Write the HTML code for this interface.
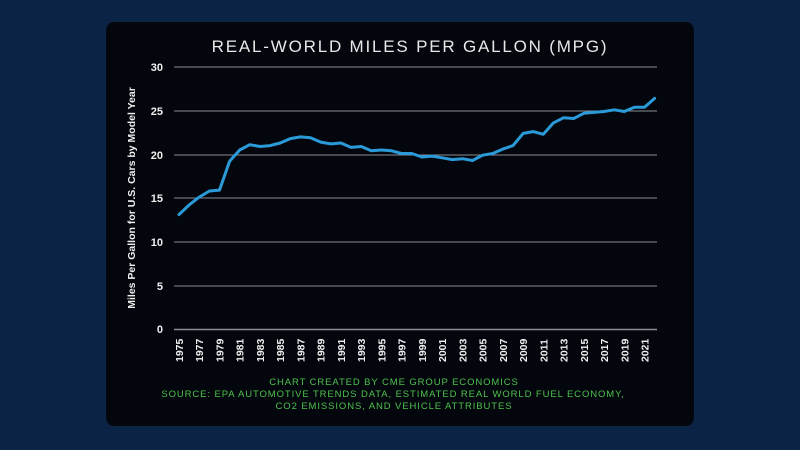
<!DOCTYPE html>
<html><head><meta charset="utf-8"><style>
html,body{margin:0;padding:0;width:800px;height:450px;background:#0b2345;overflow:hidden}
svg{display:block}
</style></head><body>
<svg width="800" height="450" xmlns="http://www.w3.org/2000/svg" font-family="Liberation Sans, sans-serif">
<rect x="0" y="0" width="800" height="450" fill="#0b2345"/>
<rect x="106" y="22" width="588" height="404" rx="8" fill="#04060d"/>
<text x="410" y="52" text-anchor="middle" fill="#e8e8e8" font-size="17" letter-spacing="1.8">REAL-WORLD MILES PER GALLON (MPG)</text>
<g stroke="#8a8c92" stroke-width="1">
<line x1="174" x2="657" y1="67" y2="67"/><line x1="174" x2="657" y1="111" y2="111"/>
<line x1="174" x2="657" y1="155" y2="155"/><line x1="174" x2="657" y1="198" y2="198"/>
<line x1="174" x2="657" y1="242" y2="242"/><line x1="174" x2="657" y1="286" y2="286"/>
<line x1="174" x2="657" y1="329.5" y2="329.5" stroke-width="1.5"/>
</g>
<g fill="#f0f0f0" font-size="11" font-weight="bold" text-anchor="end">
<text x="163" y="71">30</text><text x="163" y="115">25</text><text x="163" y="159">20</text>
<text x="163" y="202">15</text><text x="163" y="246">10</text><text x="163" y="290">5</text><text x="163" y="333">0</text>
</g>
<text transform="translate(135,198) rotate(-90)" text-anchor="middle" fill="#f0f0f0" font-size="10.5" font-weight="bold">Miles Per Gallon for U.S. Cars by Model Year</text>
<g id="xl" fill="#f0f0f0" font-size="10.5" font-weight="bold"></g>
<polyline id="ln" fill="none" stroke="#2a9ad8" stroke-width="3" stroke-linejoin="round" stroke-linecap="round"/>
<g fill="#4cc24c" font-size="9.5" text-anchor="middle" letter-spacing="0.9">
<text x="394" y="385">CHART CREATED BY CME GROUP ECONOMICS</text>
<text x="393" y="397">SOURCE: EPA AUTOMOTIVE TRENDS DATA, ESTIMATED REAL WORLD FUEL ECONOMY,</text>
<text x="394" y="409">CO2 EMISSIONS, AND VEHICLE ATTRIBUTES</text>
</g>
</svg>
<script>
var d=[13.1,14.2,15.1,15.8,15.9,19.2,20.5,21.1,20.9,21.0,21.3,21.8,22.0,21.9,21.4,21.2,21.3,20.8,20.9,20.4,20.5,20.4,20.1,20.1,19.7,19.8,19.6,19.4,19.5,19.3,19.9,20.1,20.6,21.0,22.4,22.6,22.3,23.6,24.2,24.1,24.7,24.8,24.9,25.1,24.9,25.4,25.4,26.4];
var X=function(i){return 179+i*10.12},Y=function(v){return 329-v*8.733};
document.getElementById('ln').setAttribute('points',d.map(function(v,i){return X(i).toFixed(1)+','+Y(v).toFixed(1)}).join(' '));
var g=document.getElementById('xl'),s='';
for(var yr=1975;yr<=2021;yr+=2){var x=X(yr-1975)+4;s+='<text transform="translate('+x.toFixed(1)+',362) rotate(-90)">'+yr+'</text>';}
g.innerHTML=s;
</script>
</body></html>
